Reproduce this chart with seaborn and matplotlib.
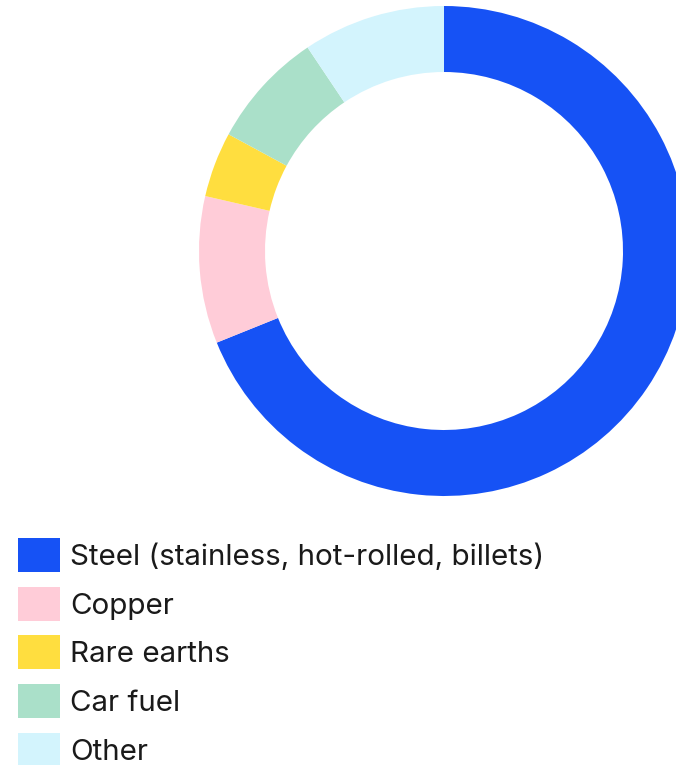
import matplotlib
matplotlib.use("Agg")
import matplotlib.pyplot as plt
import seaborn as sns
from matplotlib.patches import Patch

# Share of each commodity in the total
categories = ["Steel (stainless, hot-rolled, billets)", "Copper", "Rare earths", "Car fuel", "Other"]
shares = [68.9, 9.7, 4.3, 7.7, 9.4]
colors = ["#1652F5", "#FFCCD8", "#FFDE3F", "#AAE0C9", "#D3F4FD"]

sns.set_theme(style="white")
plt.rcParams["font.family"] = ["Inter", "DejaVu Sans"]

W, H = 676, 765
fig = plt.figure(figsize=(W / 100, H / 100), dpi=100)
fig.patch.set_facecolor("white")

# Donut: centre at (444, 251) px, outer radius 245 px
cx, cy, r = 444, 251, 245
ax = fig.add_axes([(cx - r) / W, (H - cy - r) / H, 2 * r / W, 2 * r / H])
wedges, _ = ax.pie(
    shares,
    colors=colors,
    startangle=90,
    counterclock=False,
    radius=1.0,
    wedgeprops=dict(width=66 / 245, linewidth=0),
)
ax.set_xlim(-1, 1)
ax.set_ylim(-1, 1)
ax.set_aspect("equal")
ax.axis("off")

handles = [Patch(facecolor=c, edgecolor="none") for c in colors]
fs = 21.3
leg = fig.legend(
    handles,
    categories,
    loc="upper left",
    bbox_to_anchor=(18 / W, 1 - 538 / H),
    frameon=False,
    fontsize=fs,
    handlelength=1.42,
    handleheight=1.4,
    handletextpad=0.33,
    labelspacing=0.49,
    borderpad=0,
    borderaxespad=0,
)
for t in leg.get_texts():
    t.set_color("#1a1a1a")

fig.savefig("out.png", dpi=100, facecolor="white")
